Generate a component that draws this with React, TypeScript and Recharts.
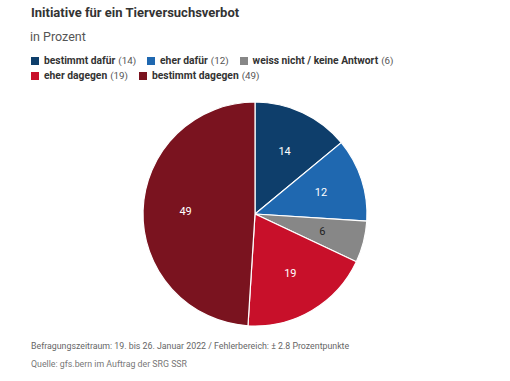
import { PieChart, Pie, Cell } from 'recharts';

const CATEGORIES = ['bestimmt dafür', 'eher dafür', 'weiss nicht / keine Antwort', 'eher dagegen', 'bestimmt dagegen'];
const VALUES = [14, 12, 6, 19, 49];
const COLORS = ['#0e3e6b', '#1f68b0', '#878787', '#c8102a', '#7a131f'];
const LABEL_COLORS = ['#ffffff', '#ffffff', '#222222', '#ffffff', '#ffffff'];

const FONT = 'Roboto, "Noto Sans", sans-serif';

const data = CATEGORIES.map((name, i) => ({ name, value: VALUES[i], fill: COLORS[i] }));

const RADIAN = Math.PI / 180;

// value labels sit a bit past the middle of each slice
function renderLabel(props: any) {
  const { cx, cy, midAngle, outerRadius, index, value } = props;
  const r = outerRadius * 0.62;
  const x = cx + r * Math.cos(-midAngle * RADIAN);
  const y = cy + r * Math.sin(-midAngle * RADIAN);
  return (
    <text x={x} y={y} fill={LABEL_COLORS[index]} fontSize={11} fontFamily={FONT}
      textAnchor="middle" dominantBaseline="central">
      {value}
    </text>
  );
}

function LegendItem({ i }: { i: number }) {
  return (
    <span style={{ display: 'inline-flex', alignItems: 'center', marginRight: 11 }}>
      <span style={{ width: 8, height: 8, background: COLORS[i], marginRight: 5, display: 'inline-block' }} />
      <span style={{ fontWeight: 700, color: '#333' }}>{CATEGORIES[i]}</span>
      <span style={{ color: '#555', marginLeft: 3, fontSize: 9.8 }}>({VALUES[i]})</span>
    </span>
  );
}

export default function App() {
  return (
    <div style={{ position: 'absolute', left: 0, top: 0, width: 510, height: 381, background: '#fff', fontFamily: FONT, overflow: 'hidden' }}>
      <div style={{ position: 'absolute', left: 31, top: 5, fontSize: 13, fontWeight: 700, color: '#333' }}>
        Initiative für ein Tierversuchsverbot
      </div>
      <div style={{ position: 'absolute', left: 30, top: 29, fontSize: 12.5, color: '#555' }}>
        in Prozent
      </div>
      <div style={{ position: 'absolute', left: 31, top: 54, fontSize: 10.3, lineHeight: '14.5px', width: 470 }}>
        <div style={{ display: 'flex' }}>
          <LegendItem i={0} />
          <LegendItem i={1} />
          <LegendItem i={2} />
        </div>
        <div style={{ display: 'flex' }}>
          <LegendItem i={3} />
          <LegendItem i={4} />
        </div>
      </div>
      <PieChart width={510} height={381} margin={{ top: 0, right: 0, bottom: 0, left: 0 }}
        style={{ position: 'absolute', left: 0, top: 0 }}>
        <Pie
          data={data}
          dataKey="value"
          cx={255}
          cy={214}
          outerRadius={112}
          startAngle={90}
          endAngle={-270}
          stroke="#ffffff"
          strokeWidth={1.2}
          label={renderLabel}
          labelLine={false}
          isAnimationActive={false}
        >
          {data.map((entry, i) => (
            <Cell key={i} fill={entry.fill} />
          ))}
        </Pie>
      </PieChart>
      <div style={{ position: 'absolute', left: 31, top: 341, fontSize: 8.8, color: '#666' }}>
        Befragungszeitraum: 19. bis 26. Januar 2022 / Fehlerbereich: ± 2.8 Prozentpunkte
      </div>
      <div style={{ position: 'absolute', left: 31, top: 359, fontSize: 8.8, color: '#777' }}>
        Quelle: gfs.bern im Auftrag der SRG SSR
      </div>
    </div>
  );
}
